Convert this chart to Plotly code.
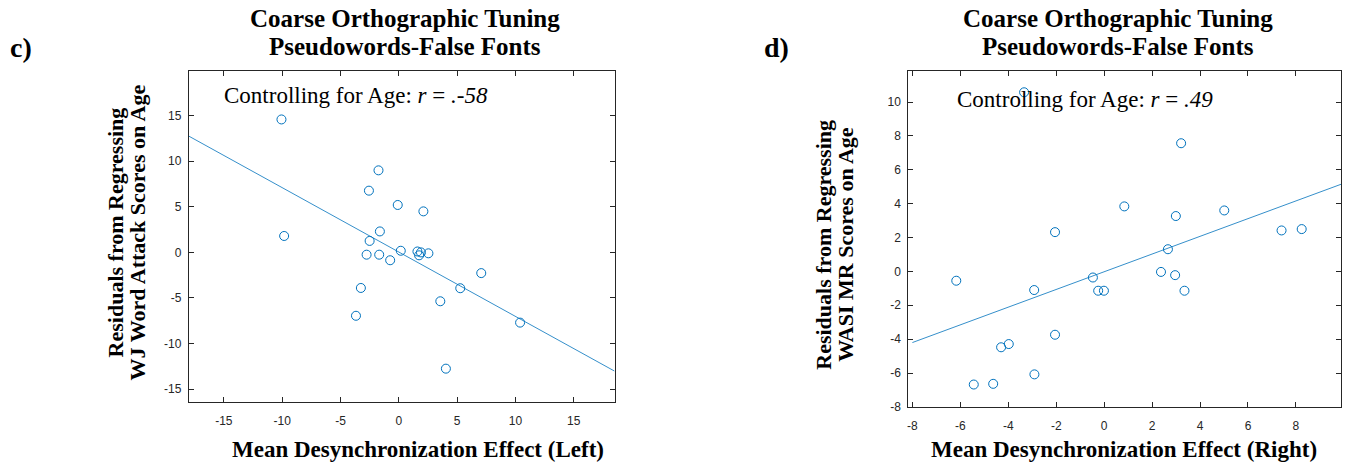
import numpy as np
import plotly.graph_objects as go

# ---------------- data ----------------
left_x = [-10.06, -9.83, -1.74, -2.56, -0.09, 2.11, -1.62, -2.50, -2.76, -1.68,
          -0.74, 0.17, 1.60, 1.90, 1.74, 2.54, -3.25, -3.67, 3.56, 5.27,
          4.04, 7.07, 10.40]
left_y = [14.58, 1.80, 9.00, 6.77, 5.20, 4.50, 2.30, 1.26, -0.25, -0.25,
          -0.86, 0.18, 0.10, 0.00, -0.32, -0.10, -3.90, -6.95, -5.36, -3.93,
          -12.75, -2.27, -7.70]

right_x = [-3.34, -6.17, -2.05, 0.84, -0.47, -2.92, -0.25, -0.01, -2.05, -4.30,
           -3.98, -2.91, -5.44, -4.63, 3.21, 2.99, 5.01, 7.40, 8.24, 2.66,
           2.37, 2.96, 3.35]
right_y = [10.58, -0.55, 2.32, 3.84, -0.36, -1.10, -1.14, -1.14, -3.74, -4.48,
           -4.29, -6.08, -6.68, -6.64, 7.57, 3.27, 3.60, 2.42, 2.50, 1.31,
           -0.03, -0.22, -1.14]

left_xticks = [-15, -10, -5, 0, 5, 10, 15]
left_yticks = [-15, -10, -5, 0, 5, 10, 15]
right_xticks = [-8, -6, -4, -2, 0, 2, 4, 6, 8]
right_yticks = [-8, -6, -4, -2, 0, 2, 4, 6, 8, 10]

title_line1 = "Coarse Orthographic Tuning"
title_line2 = "Pseudowords-False Fonts"
left_ylabel = ["Residuals from Regressing", "WJ Word Attack Scores on Age"]
right_ylabel = ["Residuals from Regressing", "WASI MR Scores on Age"]
left_xlabel = "Mean Desynchronization Effect (Left)"
right_xlabel = "Mean Desynchronization Effect (Right)"
left_note = "Controlling for Age: <i>r</i> = <i>.-58</i>"
right_note = "Controlling for Age: <i>r</i> = <i>.49</i>"

# ---------------- layout constants ----------------
W, H = 1347, 472
BLUE = "#0072BD"
AX = "#262626"
SERIF = "Liberation Serif, Times New Roman, serif"
SANS = "Liberation Sans, Arial, sans-serif"

left_xrange = [-18.0, 18.5]
left_yrange = [-16.4, 19.9]
right_xrange = [-8.17, 9.88]
right_yrange = [-8.0, 11.84]


def px(x):
    return x / W


def py(y):
    return 1 - y / H


fig = go.Figure()

# regression lines computed from the data
ls, li = np.polyfit(left_x, left_y, 1)
rs, ri = np.polyfit(right_x, right_y, 1)
lx_line = np.array(left_xrange)
rx_line = np.array([right_xticks[0], right_xrange[1]])

fig.add_trace(go.Scatter(x=lx_line, y=ls * lx_line + li, mode="lines",
                         line=dict(color=BLUE, width=0.8), xaxis="x", yaxis="y",
                         hoverinfo="skip", showlegend=False))
fig.add_trace(go.Scatter(x=left_x, y=left_y, mode="markers",
                         marker=dict(symbol="circle-open", size=9, color=BLUE,
                                     line=dict(width=1, color=BLUE)),
                         xaxis="x", yaxis="y", showlegend=False))
fig.add_trace(go.Scatter(x=rx_line, y=rs * rx_line + ri, mode="lines",
                         line=dict(color=BLUE, width=0.8), xaxis="x2", yaxis="y2",
                         hoverinfo="skip", showlegend=False))
fig.add_trace(go.Scatter(x=right_x, y=right_y, mode="markers",
                         marker=dict(symbol="circle-open", size=9, color=BLUE,
                                     line=dict(width=1, color=BLUE)),
                         xaxis="x2", yaxis="y2", showlegend=False))


def axis(domain, rng, ticks, anchor, standoff):
    return dict(domain=domain, range=rng, tickvals=ticks,
                ticktext=[str(t) for t in ticks], showgrid=False, zeroline=False,
                showline=True, linecolor=AX, linewidth=1, mirror="ticks",
                ticks="inside", ticklen=5, tickwidth=1, tickcolor=AX,
                ticklabelstandoff=standoff,
                tickfont=dict(family=SANS, size=12, color=AX), anchor=anchor,
                fixedrange=True)


fig.update_layout(
    width=W, height=H, margin=dict(l=0, r=0, t=0, b=0),
    paper_bgcolor="white", plot_bgcolor="white", showlegend=False,
    xaxis=axis([px(188), px(614)], left_xrange, left_xticks, "y", 8),
    yaxis=axis([py(408), py(72)], left_yrange, left_yticks, "x", 4),
    xaxis2=axis([px(908), px(1341)], right_xrange, right_xticks, "y2", 8),
    yaxis2=axis([py(413), py(72)], right_yrange, right_yticks, "x2", 4),
)

ann = []


def add(text, x, y, size, bold=False, angle=0, xanchor="center", family=SERIF):
    t = f"<b>{text}</b>" if bold else text
    ann.append(dict(text=t, x=px(x), y=py(y), xref="paper", yref="paper",
                    showarrow=False, xanchor=xanchor, yanchor="middle",
                    textangle=angle, font=dict(family=family, size=size, color="black")))


# panel letters
add("c)", 20, 48, 28, bold=True)
add("d)", 776, 48, 28, bold=True)
# titles
for cx in (404, 1118):
    add(title_line1, cx, 18.5, 25, bold=True)
    add(title_line2, cx, 47, 25, bold=True)
# y labels
add(left_ylabel[0], 115, 236, 22, bold=True, angle=-90)
add(left_ylabel[1], 137, 236, 22, bold=True, angle=-90)
add(right_ylabel[0], 823, 248, 22, bold=True, angle=-90)
add(right_ylabel[1], 845, 248, 22, bold=True, angle=-90)
# x labels
add(left_xlabel, 417, 456, 23, bold=True)
add(right_xlabel, 1124, 456, 23, bold=True)
# notes
add(left_note, 221, 97, 23, xanchor="left")
add(right_note, 955, 101, 23, xanchor="left")

fig.update_layout(annotations=ann)
fig.write_html("out.html")
